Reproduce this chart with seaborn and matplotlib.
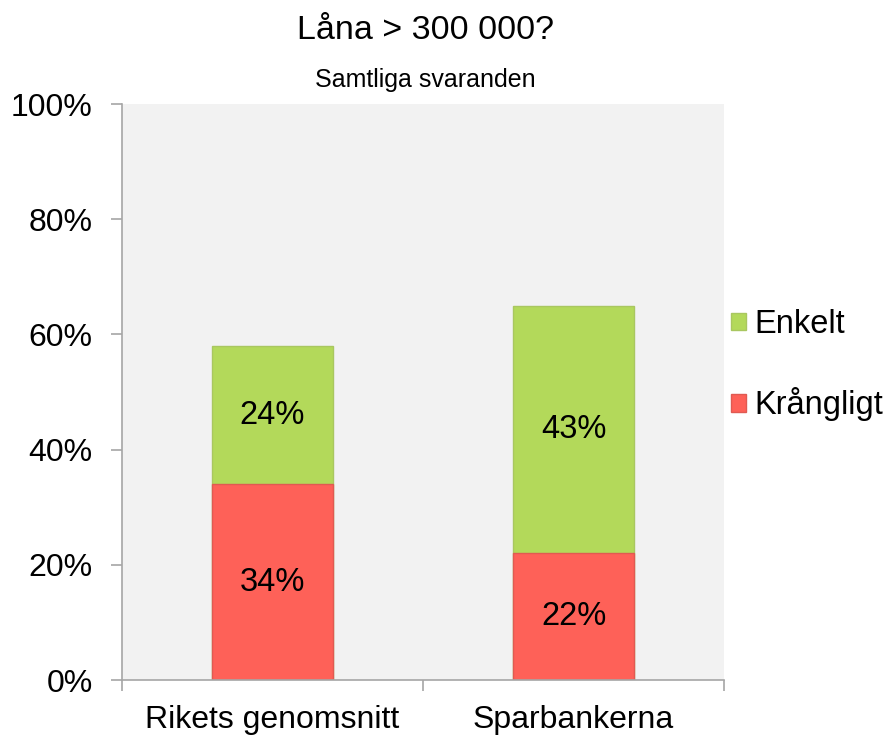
import matplotlib
matplotlib.use("Agg")
import matplotlib.pyplot as plt
import seaborn as sns
import pandas as pd
from matplotlib.patches import Patch
from matplotlib.ticker import FixedLocator, PercentFormatter

# Data
categories = ["Rikets genomsnitt", "Sparbankerna"]
krangligt = [34, 22]
enkelt = [24, 43]

green = "#b3d95a"
red = "#fe6158"
axis_grey = "#a6a6a6"

sns.set_theme(style="white")
plt.rcParams["font.family"] = ["Liberation Sans", "DejaVu Sans"]
plt.rcParams["text.color"] = "black"

df = pd.DataFrame({"cat": categories, "Krångligt": krangligt, "Enkelt": enkelt})
df["total"] = df["Krångligt"] + df["Enkelt"]

fig = plt.figure(figsize=(8.86, 7.35), dpi=100)
ax = fig.add_axes([0.1377, 0.0748, 0.6795, 0.7837])
ax.set_facecolor("#f2f2f2")

# stacked: draw totals in green, then the lower part in red
sns.barplot(data=df, x="cat", y="total", color=green, width=0.405, saturation=1,
            edgecolor="#a9c760", linewidth=1, ax=ax)
sns.barplot(data=df, x="cat", y="Krångligt", color=red, width=0.405, saturation=1,
            edgecolor="#e05a52", linewidth=1, ax=ax)

for i, (k, e) in enumerate(zip(krangligt, enkelt)):
    ax.text(i, k / 2, f"{k}%", ha="center", va="center", fontsize=23.5, color="black")
    ax.text(i, k + e / 2, f"{e}%", ha="center", va="center", fontsize=23.5, color="black")

ax.set_xlim(-0.5, 1.5)
ax.set_ylim(0, 100)
ax.yaxis.set_major_locator(FixedLocator([0, 20, 40, 60, 80, 100]))
ax.yaxis.set_major_formatter(PercentFormatter(decimals=0))
ax.set_xlabel("")
ax.set_ylabel("")

for s in ["top", "right"]:
    ax.spines[s].set_visible(False)
for s in ["left", "bottom"]:
    ax.spines[s].set_color(axis_grey)
    ax.spines[s].set_linewidth(1.2)

ax.tick_params(axis="y", which="major", left=True, length=8, width=1.2, color=axis_grey,
               labelsize=23, pad=13, labelcolor="black")
ax.tick_params(axis="x", which="major", bottom=False, labelsize=23, pad=12, labelcolor="black")
ax.xaxis.set_minor_locator(FixedLocator([-0.5, 0.5, 1.5]))
ax.tick_params(axis="x", which="minor", bottom=True, length=8, width=1.2, color=axis_grey)

fig.text(0.48, 0.958, "Låna > 300 000?", ha="center", va="center", fontsize=24.5)
fig.text(0.48, 0.891, "Samtliga svaranden", ha="center", va="center", fontsize=18)

handles = [Patch(facecolor=green, edgecolor="#a9c760", label="Enkelt"),
           Patch(facecolor=red, edgecolor="#e05a52", label="Krångligt")]
fig.legend(handles=handles, loc="center left", bbox_to_anchor=(0.825, 0.503),
           frameon=False, fontsize=23.5, handlelength=0.46, handleheight=0.46,
           handletextpad=0.25, labelspacing=1.45, borderaxespad=0, borderpad=0)

fig.savefig("out.png", dpi=100)
